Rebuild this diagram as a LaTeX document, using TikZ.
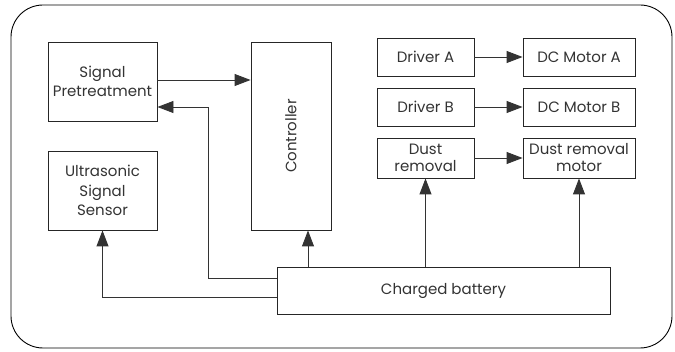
\documentclass[tikz,border=0pt]{standalone}
\usepackage{fontspec}
\setmainfont{Poppins}
\usetikzlibrary{arrows.meta, positioning, calc}

\begin{document}
\begin{tikzpicture}[
			x=1pt, y=-1pt,
			font=\fontsize{15}{19.5}\selectfont,
			block/.style={rectangle, draw=black!85, line width=0.9pt, text=black!80,
				align=center, inner sep=2pt},
			arrow/.style={-{Triangle[length=16pt, width=12pt]}, line width=0.9pt, draw=black!80}
			]
			\useasboundingbox (0,0) rectangle (675,352);
			\draw[line width=0.9pt, rounded corners=32pt] (11,5) rectangle (672,348);

			\node[block, minimum width=109pt, minimum height=79pt] (sig) at (102.5,81.5) {Signal\\Pretreatment};
			\node[block, minimum width=109pt, minimum height=79pt] (ultra) at (102.5,190.5) {Ultrasonic\\Signal\\Sensor};
			\node[block, minimum width=188pt, minimum height=80pt, rotate=90] (ctrl) at (291,136) {Controller};
			\node[block, minimum width=97pt, minimum height=38pt] (drvA) at (425.5,57) {Driver A};
			\node[block, minimum width=112pt, minimum height=38pt] (motA) at (579,57) {DC Motor A};
			\node[block, minimum width=97pt, minimum height=38pt] (drvB) at (425.5,107) {Driver B};
			\node[block, minimum width=112pt, minimum height=38pt] (motB) at (579,107) {DC Motor B};
			\node[block, minimum width=97pt, minimum height=40pt, font=\fontsize{15}{17}\selectfont] (dust) at (425.5,158) {Dust\\removal};
			\node[block, minimum width=112pt, minimum height=40pt, font=\fontsize{15}{17}\selectfont] (dustm) at (579,158) {Dust removal\\motor};
			\node[block, minimum width=333pt, minimum height=47pt] (batt) at (443.5,290.5) {Charged battery};

			% controller is turned: its west anchor is at the bottom
			\draw[arrow] (sig.east |- 0,80) -- (ctrl.north |- 0,80);
			\draw[arrow] (drvA) -- (motA);
			\draw[arrow] (drvB) -- (motB);
			\draw[arrow] (dust) -- (dustm);
			\draw[arrow] (batt.west |- 0,278) -| (208,107) -- (sig.east |- 0,107);
			\draw[arrow] (batt.west |- 0,297) -| (ultra.south);
			\draw[arrow] (batt.north -| 308,0) -- (ctrl.west -| 308,0);
			\draw[arrow] (batt.north -| dust.south) -- (dust.south);
			\draw[arrow] (batt.north -| dustm.south) -- (dustm.south);
		\end{tikzpicture}
\end{document}
